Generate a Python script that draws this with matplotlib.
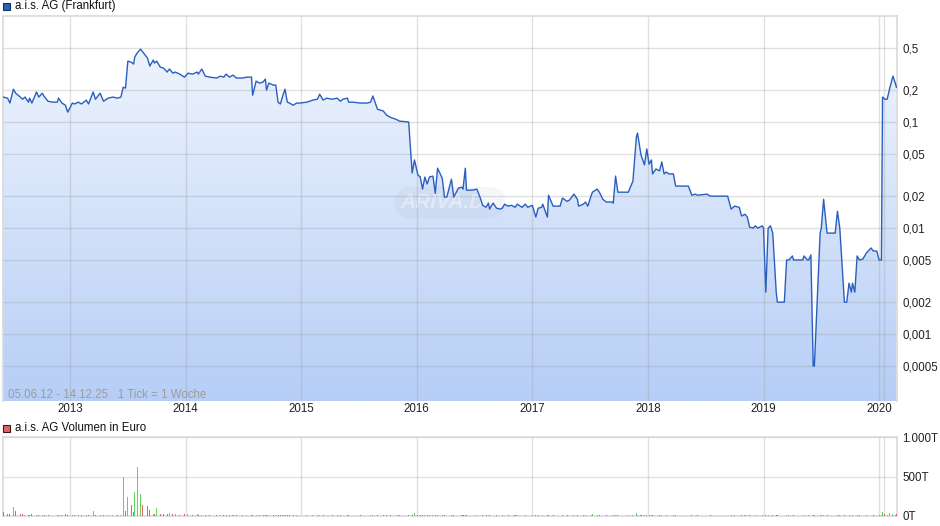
import numpy as np
import matplotlib.pyplot as plt
from matplotlib.path import Path
from matplotlib.patches import PathPatch, Rectangle
from matplotlib.ticker import FixedLocator, NullLocator

plt.rcParams['font.family'] = ['Liberation Sans', 'DejaVu Sans']

# Wochenkurse a.i.s. AG (Frankfurt), x = Datum als Dezimaljahr
dates = [
    2012.42, 2012.46, 2012.48, 2012.51, 2012.53, 2012.57, 2012.59, 2012.61, 2012.64, 2012.65,
    2012.67, 2012.71, 2012.73, 2012.76, 2012.78, 2012.81, 2012.85, 2012.89, 2012.90, 2012.93,
    2012.96, 2012.98, 2013.02, 2013.04, 2013.07, 2013.10, 2013.14, 2013.16, 2013.20, 2013.22,
    2013.26, 2013.29, 2013.33, 2013.37, 2013.41, 2013.44, 2013.46, 2013.48, 2013.50, 2013.53,
    2013.55, 2013.56, 2013.58, 2013.61, 2013.63, 2013.67, 2013.69, 2013.72, 2013.73, 2013.75,
    2013.78, 2013.81, 2013.84, 2013.86, 2013.89, 2013.91, 2013.95, 2013.99, 2014.02, 2014.06,
    2014.10, 2014.11, 2014.14, 2014.17, 2014.21, 2014.27, 2014.30, 2014.33, 2014.35, 2014.38,
    2014.41, 2014.44, 2014.49, 2014.53, 2014.57, 2014.58, 2014.61, 2014.64, 2014.67, 2014.69,
    2014.70, 2014.72, 2014.76, 2014.78, 2014.80, 2014.82, 2014.84, 2014.86, 2014.88, 2014.90,
    2014.93, 2014.96, 2014.99, 2015.05, 2015.10, 2015.14, 2015.16, 2015.19, 2015.22, 2015.27,
    2015.31, 2015.34, 2015.36, 2015.40, 2015.41, 2015.45, 2015.51, 2015.57, 2015.60, 2015.62,
    2015.66, 2015.71, 2015.74, 2015.77, 2015.79, 2015.83, 2015.85, 2015.93, 2015.96, 2015.98,
    2016.01, 2016.03, 2016.05, 2016.07, 2016.09, 2016.11, 2016.14, 2016.16, 2016.18, 2016.22,
    2016.24, 2016.26, 2016.30, 2016.32, 2016.36, 2016.39, 2016.40, 2016.42, 2016.43, 2016.48,
    2016.52, 2016.55, 2016.57, 2016.60, 2016.62, 2016.63, 2016.66, 2016.69, 2016.72, 2016.74,
    2016.76, 2016.79, 2016.82, 2016.85, 2016.87, 2016.91, 2016.94, 2016.96, 2017.00, 2017.03,
    2017.05, 2017.08, 2017.09, 2017.13, 2017.14, 2017.18, 2017.24, 2017.26, 2017.30, 2017.32,
    2017.36, 2017.39, 2017.40, 2017.44, 2017.46, 2017.48, 2017.51, 2017.52, 2017.56, 2017.58,
    2017.61, 2017.64, 2017.69, 2017.70, 2017.72, 2017.74, 2017.78, 2017.83, 2017.87, 2017.90,
    2017.91, 2017.94, 2017.97, 2017.99, 2018.01, 2018.03, 2018.04, 2018.07, 2018.10, 2018.12,
    2018.14, 2018.16, 2018.18, 2018.22, 2018.24, 2018.35, 2018.38, 2018.41, 2018.43, 2018.51,
    2018.54, 2018.69, 2018.72, 2018.75, 2018.79, 2018.81, 2018.84, 2018.86, 2018.88, 2018.91,
    2018.93, 2018.95, 2018.99, 2019.00, 2019.02, 2019.04, 2019.06, 2019.08, 2019.11, 2019.12,
    2019.18, 2019.20, 2019.22, 2019.25, 2019.26, 2019.34, 2019.35, 2019.38, 2019.39, 2019.41,
    2019.43, 2019.44, 2019.49, 2019.50, 2019.52, 2019.55, 2019.62, 2019.64, 2019.66, 2019.70,
    2019.72, 2019.74, 2019.76, 2019.77, 2019.79, 2019.81, 2019.83, 2019.86, 2019.89, 2019.93,
    2019.95, 2019.98, 2020.00, 2020.02, 2020.03, 2020.05, 2020.07, 2020.09, 2020.12, 2020.14,
    2020.15,
]

prices = [
    0.172, 0.168, 0.151, 0.204, 0.187, 0.172, 0.164, 0.172, 0.154, 0.168,
    0.151, 0.192, 0.172, 0.187, 0.172, 0.157, 0.154, 0.154, 0.168, 0.151,
    0.144, 0.124, 0.151, 0.148, 0.154, 0.148, 0.161, 0.148, 0.192, 0.164,
    0.187, 0.157, 0.168, 0.172, 0.168, 0.172, 0.213, 0.209, 0.375, 0.367,
    0.352, 0.41, 0.447, 0.487, 0.457, 0.401, 0.337, 0.384, 0.360, 0.375,
    0.330, 0.322, 0.296, 0.316, 0.289, 0.296, 0.283, 0.265, 0.289, 0.283,
    0.296, 0.283, 0.316, 0.271, 0.265, 0.260, 0.271, 0.265, 0.283, 0.265,
    0.277, 0.260, 0.260, 0.265, 0.265, 0.179, 0.243, 0.233, 0.238, 0.254,
    0.200, 0.233, 0.223, 0.223, 0.154, 0.148, 0.176, 0.204, 0.154, 0.151,
    0.144, 0.151, 0.151, 0.154, 0.161, 0.164, 0.183, 0.161, 0.168, 0.164,
    0.168, 0.157, 0.164, 0.168, 0.154, 0.154, 0.151, 0.151, 0.154, 0.176,
    0.132, 0.127, 0.116, 0.111, 0.109, 0.105, 0.102, 0.100, 0.0331, 0.0439,
    0.0317, 0.0303, 0.0233, 0.0303, 0.026, 0.0303, 0.0309, 0.0213, 0.0367, 0.0296,
    0.0196, 0.0196, 0.0289, 0.0196, 0.0238, 0.0243, 0.0233, 0.0367, 0.0228, 0.0228,
    0.0233, 0.0192, 0.0164, 0.0157, 0.0172, 0.0151, 0.0172, 0.0154, 0.0151, 0.0154,
    0.0168, 0.0161, 0.0164, 0.0157, 0.0168, 0.0157, 0.0168, 0.0157, 0.0164, 0.0127,
    0.0154, 0.0157, 0.0168, 0.0127, 0.0204, 0.0161, 0.0161, 0.0192, 0.0179, 0.0183,
    0.0209, 0.0187, 0.0161, 0.0168, 0.0176, 0.0161, 0.0204, 0.0218, 0.0233, 0.0218,
    0.0187, 0.0176, 0.0176, 0.0172, 0.0309, 0.0218, 0.0218, 0.0218, 0.0277, 0.0722,
    0.0787, 0.0489, 0.0394, 0.0558, 0.040, 0.0439, 0.0324, 0.0361, 0.0346, 0.042,
    0.0324, 0.0338, 0.0324, 0.0324, 0.0249, 0.0249, 0.0204, 0.0209, 0.0204, 0.0209,
    0.020, 0.020, 0.0151, 0.0161, 0.0157, 0.013, 0.0135, 0.0127, 0.0102, 0.0100,
    0.0105, 0.0100, 0.0105, 0.0100, 0.00249, 0.0100, 0.0105, 0.00897, 0.00249, 0.002,
    0.002, 0.005, 0.005, 0.00546, 0.005, 0.005, 0.00546, 0.005, 0.005, 0.00558,
    0.0005, 0.0005, 0.00897, 0.0100, 0.0187, 0.00897, 0.00897, 0.0144, 0.0100, 0.002,
    0.002, 0.00302, 0.00249, 0.00302, 0.00249, 0.00546, 0.005, 0.00511, 0.00582, 0.00649,
    0.00608, 0.00608, 0.005, 0.005, 0.172, 0.164, 0.164, 0.204, 0.271, 0.233,
    0.213,
]

# Volumen in Tausend Euro (T)
volume = [
    50, 25, 30, 117, 67, 30, 20, 12, 10, 8,
    20, 18, 10, 8, 8, 10, 6, 8, 10, 12,
    29, 10, 8, 10, 8, 10, 8, 12, 67, 10,
    8, 10, 12, 10, 8, 15, 500, 58, 245, 142,
    45, 304, 621, 279, 133, 121, 79, 30, 20, 104,
    30, 25, 20, 35, 25, 20, 15, 20, 25, 15,
    20, 15, 12, 15, 10, 12, 10, 15, 12, 10,
    10, 12, 8, 10, 12, 15, 10, 12, 10, 8,
    12, 10, 8, 10, 15, 10, 8, 12, 10, 8,
    8, 10, 6, 8, 10, 8, 12, 8, 6, 8,
    10, 8, 6, 8, 10, 6, 8, 6, 8, 10,
    12, 8, 10, 8, 6, 8, 10, 12, 15, 42,
    12, 10, 8, 12, 10, 8, 10, 8, 12, 10,
    8, 6, 10, 8, 6, 8, 10, 12, 8, 6,
    8, 6, 8, 10, 6, 8, 6, 8, 6, 8,
    6, 8, 6, 8, 10, 6, 8, 6, 8, 10,
    8, 6, 8, 10, 12, 8, 6, 10, 8, 6,
    10, 8, 6, 8, 10, 6, 12, 25, 10, 8,
    6, 8, 6, 8, 15, 8, 6, 8, 12, 33,
    15, 10, 8, 12, 8, 10, 8, 6, 8, 10,
    6, 8, 6, 8, 10, 6, 8, 6, 8, 6,
    8, 6, 10, 8, 6, 8, 10, 6, 8, 6,
    8, 6, 8, 6, 12, 8, 6, 8, 10, 8,
    6, 10, 8, 6, 8, 6, 8, 6, 8, 6,
    12, 8, 10, 8, 12, 8, 6, 10, 8, 12,
    6, 8, 6, 8, 6, 10, 8, 6, 8, 6,
    8, 6, 8, 10, 45, 20, 15, 40, 25, 15,
    20,
]

years = [2013, 2014, 2015, 2016, 2017, 2018, 2019, 2020]
extra_grid = [2020.04]
price_ticks = [0.5, 0.2, 0.1, 0.05, 0.02, 0.01, 0.005, 0.002, 0.001, 0.0005]
price_labels = ['0,5', '0,2', '0,1', '0,05', '0,02', '0,01', '0,005', '0,002', '0,001', '0,0005']
vol_ticks = [0, 500, 1000]
vol_labels = ['0T', '500T', '1.000T']

x = np.array(dates)
p = np.array(prices)
v = np.array(volume)

W, H = 940, 526
fig = plt.figure(figsize=(9.4, 5.26), dpi=100)
line_col = '#2a5fbf'
grid_col = '#9a9a9a'
xmin, xmax = 2012.42, 2020.155

def fx(px):
    return px / W

def fy(py):
    return 1 - py / H

# --- Kurs-Chart ---
ax = fig.add_axes([fx(3), fy(401), fx(897) - fx(3), fy(16) - fy(401)])
ax.set_yscale('log')
ax.set_xlim(xmin, xmax)
ax.set_ylim(0.000234, 1.0)

ybot = 0.0001
verts = [(x[0], ybot)] + list(zip(x, p)) + [(x[-1], ybot), (x[0], ybot)]
patch = PathPatch(Path(verts), facecolor='none', edgecolor='none', transform=ax.transData)
ax.add_patch(patch)
grad = np.linspace(0, 1, 256).reshape(-1, 1)
top = np.array([0xf3, 0xf7, 0xfe]) / 255
bot = np.array([0xb6, 0xce, 0xf6]) / 255
img = top + (bot - top) * grad[..., None]
im = ax.imshow(img, extent=[0, 1, 0, 1], transform=ax.transAxes, aspect='auto', zorder=0)
im.set_clip_path(patch)

ax.plot(x, p, color=line_col, lw=1.0, zorder=3)

ax.yaxis.tick_right()
ax.yaxis.set_major_locator(FixedLocator(price_ticks))
ax.yaxis.set_minor_locator(NullLocator())
ax.set_yticklabels(price_labels)
ax.xaxis.set_major_locator(FixedLocator(years))
ax.xaxis.set_minor_locator(FixedLocator(extra_grid))
ax.set_xticklabels([str(y) for y in years])
ax.tick_params(axis='both', which='both', length=0, labelsize=8.3, colors='#222222')
ax.tick_params(axis='y', pad=4)
ax.tick_params(axis='x', pad=1.5)
ax.grid(True, which='both', color=grid_col, alpha=0.3, lw=1.0)
for s in ['top', 'right', 'left']:
    ax.spines[s].set_color('#d9d9d9')
    ax.spines[s].set_linewidth(1.2)
ax.spines['bottom'].set_visible(False)

ax.text(0.0056, 0.016, '05.06.12 - 14.12.25   1 Tick = 1 Woche', transform=ax.transAxes,
        fontsize=8.3, color='#9c9c9c', va='center', ha='left', zorder=4)
ax.text(0.5, 0.515, 'ARIVA.DE', transform=ax.transAxes, fontsize=15, fontweight='bold',
        style='italic', color='white', alpha=0.4, ha='center', va='center', zorder=1.2,
        bbox=dict(boxstyle='round,pad=0.3,rounding_size=0.8', fc='#a8b6c8', ec='none', alpha=0.12))

# --- Volumen-Chart ---
axv = fig.add_axes([fx(3), fy(516), fx(897) - fx(3), fy(437) - fy(516)])
axv.set_xlim(xmin, xmax)
axv.set_ylim(0, 1000)
up = np.concatenate([[False], p[1:] >= p[:-1]])
bar_cols = np.where(up, '#5fd65a', '#dc6760')
axv.bar(x, v, width=0.009, color=bar_cols, zorder=3)
axv.yaxis.tick_right()
axv.yaxis.set_major_locator(FixedLocator(vol_ticks))
axv.set_yticklabels(vol_labels)
axv.xaxis.set_major_locator(FixedLocator(years))
axv.xaxis.set_minor_locator(FixedLocator(extra_grid))
axv.set_xticklabels([])
axv.tick_params(axis='both', which='both', length=0, labelsize=8.3, colors='#222222')
axv.tick_params(axis='y', pad=4)
axv.grid(True, which='both', color=grid_col, alpha=0.3, lw=1.0)
for s in ['top', 'right', 'left', 'bottom']:
    axv.spines[s].set_color('#d9d9d9')
    axv.spines[s].set_linewidth(1.2)

# Legenden
fig.patches.append(Rectangle((fx(3), fy(10)), 7 / W, 7 / H, transform=fig.transFigure,
                             fc=line_col, ec='#1b2f5a', lw=0.8))
fig.text(fx(15), fy(6), 'a.i.s. AG (Frankfurt)', fontsize=8.3, va='center', ha='left', color='#111111')
fig.patches.append(Rectangle((fx(3), fy(432)), 7 / W, 7 / H, transform=fig.transFigure,
                             fc='#dc6760', ec='#3a1a1a', lw=0.8))
fig.text(fx(15), fy(428), 'a.i.s. AG Volumen in Euro', fontsize=8.3, va='center', ha='left', color='#111111')

fig.savefig('out.png', dpi=100)
